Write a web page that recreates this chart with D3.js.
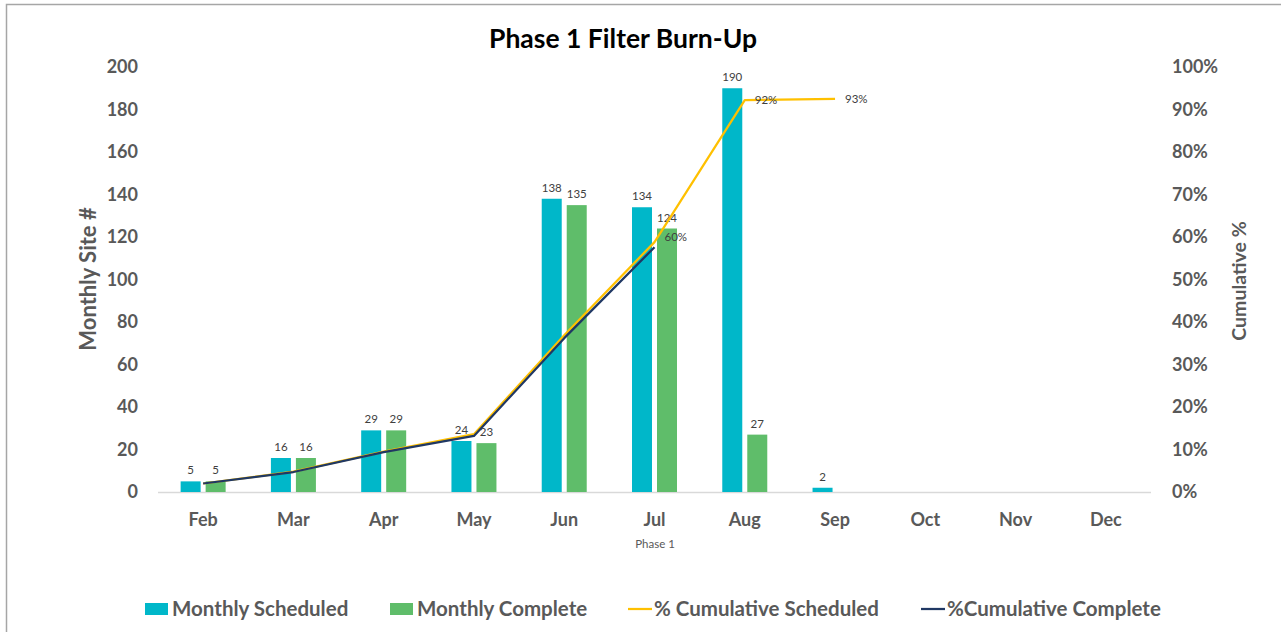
<!DOCTYPE html>
<html>
<head>
<meta charset="utf-8">
<script src="https://cdn.jsdelivr.net/npm/d3@7"></script>
<style>
  body { margin: 0; background: #fff; }
  svg { display: block; font-family: Lato, "Open Sans", sans-serif; }
</style>
</head>
<body>
<svg id="chart" width="1281" height="632"></svg>
<script>
var months = ["Feb", "Mar", "Apr", "May", "Jun", "Jul", "Aug", "Sep", "Oct", "Nov", "Dec"];
var monthlyScheduled = [5, 16, 29, 24, 138, 134, 190, 2, null, null, null];
var monthlyComplete = [5, 16, 29, 23, 135, 124, 27, null, null, null, null];
var cumScheduled = [0.02, 0.048, 0.095, 0.136, 0.369, 0.588, 0.922, 0.925];
var cumComplete = [0.02, 0.047, 0.094, 0.132, 0.362, 0.576];
// only a few points carry labels in the original
var cumScheduledLabels = [null, null, null, null, null, null, "92%", "93%"];
var cumCompleteLabels = [null, null, null, null, null, "60%"];
var leftTicks = [0, 20, 40, 60, 80, 100, 120, 140, 160, 180, 200];
var rightTicks = [0, 0.1, 0.2, 0.3, 0.4, 0.5, 0.6, 0.7, 0.8, 0.9, 1.0];

var colSched = "#00b7c9", colComp = "#5fbd6a", colCumS = "#ffc000", colCumC = "#203864";
var textCol = "#595959";

var svg = d3.select("#chart");

// outer frame
svg.append("rect")
    .attr("x", 6.5).attr("y", 4.5)
    .attr("width", 1300).attr("height", 660)
    .attr("fill", "none").attr("stroke", "#a6a6a6").attr("stroke-width", 1.5);

var plotLeft = 158, plotRight = 1151, plotTop = 67, plotBottom = 492;

var x = d3.scaleBand().domain(months).range([plotLeft, plotRight]);
var y = d3.scaleLinear().domain([0, 200]).range([plotBottom, plotTop]);
var yPct = d3.scaleLinear().domain([0, 1]).range([plotBottom, plotTop]);

// title
svg.append("text")
    .attr("x", 623).attr("y", 48)
    .attr("text-anchor", "middle")
    .style("font-size", "26.5px").style("font-weight", "bold").attr("fill", "#000")
    .text("Phase 1 Filter Burn-Up");

function styleAxis(g) {
    g.attr("font-family", null).attr("font-size", null);
    g.select(".domain").remove();
    g.selectAll("text").style("font-size", "18px").style("font-weight", "bold")
        .attr("fill", textCol);
}

// left axis
var yAxis = d3.axisLeft(y).tickValues(leftTicks).tickSize(0).tickPadding(20);
svg.append("g").attr("transform", "translate(" + plotLeft + ",0)").call(yAxis).call(styleAxis);

// right axis
var yAxisR = d3.axisRight(yPct).tickValues(rightTicks).tickSize(0).tickPadding(21)
    .tickFormat(d3.format(".0%"));
svg.append("g").attr("transform", "translate(" + plotRight + ",0)").call(yAxisR).call(styleAxis);

// x axis
var xAxis = d3.axisBottom(x).tickSize(0).tickPadding(21);
svg.append("g").attr("transform", "translate(0," + plotBottom + ")").call(xAxis).call(styleAxis);
svg.append("line")
    .attr("x1", plotLeft).attr("x2", plotRight)
    .attr("y1", plotBottom + 0.5).attr("y2", plotBottom + 0.5)
    .attr("stroke", "#d9d9d9").attr("stroke-width", 1.5);

svg.append("text")
    .attr("x", 655).attr("y", 548).attr("text-anchor", "middle")
    .style("font-size", "11.5px").attr("fill", textCol)
    .text("Phase 1");

// axis titles
svg.append("text")
    .attr("transform", "translate(96,279) rotate(-90)")
    .attr("text-anchor", "middle")
    .style("font-size", "22px").style("font-weight", "bold").attr("fill", textCol)
    .text("Monthly Site #");

svg.append("text")
    .attr("transform", "translate(1246,281) rotate(-90)")
    .attr("text-anchor", "middle")
    .style("font-size", "19.5px").style("font-weight", "bold").attr("fill", textCol)
    .text("Cumulative %");

// bars
var barW = 20, gap = 5;
function barX(m, i) { return x(m) + x.bandwidth() / 2 - barW - gap / 2 + i * (barW + gap); }

var schedData = months.map(function (m, i) { return { m: m, v: monthlyScheduled[i] }; }).filter(function (d) { return d.v != null; });
var compData = months.map(function (m, i) { return { m: m, v: monthlyComplete[i] }; }).filter(function (d) { return d.v != null; });

svg.append("g").selectAll("rect").data(schedData).enter().append("rect")
    .attr("x", function (d) { return barX(d.m, 0); })
    .attr("y", function (d) { return y(d.v); })
    .attr("width", barW)
    .attr("height", function (d) { return plotBottom - y(d.v); })
    .attr("fill", colSched);

svg.append("g").selectAll("rect").data(compData).enter().append("rect")
    .attr("x", function (d) { return barX(d.m, 1); })
    .attr("y", function (d) { return y(d.v); })
    .attr("width", barW)
    .attr("height", function (d) { return plotBottom - y(d.v); })
    .attr("fill", colComp);

function barLabels(data, i) {
    svg.append("g").selectAll("text").data(data).enter().append("text")
        .attr("x", function (d) { return barX(d.m, i) + barW / 2; })
        .attr("y", function (d) { return y(d.v) - 7; })
        .attr("text-anchor", "middle")
        .style("font-size", "11.5px").attr("fill", "#404040")
        .text(function (d) { return d.v; });
}
barLabels(schedData, 0);
barLabels(compData, 1);

// cumulative lines
var line = d3.line()
    .x(function (d, i) { return x(months[i]) + x.bandwidth() / 2; })
    .y(function (d) { return yPct(d); });

svg.append("path").datum(cumScheduled)
    .attr("d", line).attr("fill", "none")
    .attr("stroke", colCumS).attr("stroke-width", 2.25).attr("stroke-linejoin", "round");

svg.append("path").datum(cumComplete)
    .attr("d", line).attr("fill", "none")
    .attr("stroke", colCumC).attr("stroke-width", 2.25).attr("stroke-linejoin", "round");

function lineLabels(vals, labels, dy) {
    svg.append("g").selectAll("text")
        .data(vals.map(function (v, i) { return { v: v, i: i, t: labels[i] }; }).filter(function (d) { return d.t; }))
        .enter().append("text")
        .attr("x", function (d) { return x(months[d.i]) + x.bandwidth() / 2 + 10; })
        .attr("y", function (d) { return yPct(d.v) + dy; })
        .style("font-size", "11.5px").attr("fill", "#404040")
        .text(function (d) { return d.t; });
}
lineLabels(cumScheduled, cumScheduledLabels, 4);
lineLabels(cumComplete, cumCompleteLabels, -6);

// legend
var legend = [
    { name: "Monthly Scheduled", color: colSched, type: "rect", x: 145 },
    { name: "Monthly Complete", color: colComp, type: "rect", x: 390 },
    { name: "% Cumulative Scheduled", color: colCumS, type: "line", x: 628 },
    { name: "%Cumulative Complete", color: colCumC, type: "line", x: 921 }
];
var lg = svg.append("g").selectAll("g").data(legend).enter().append("g")
    .attr("transform", function (d) { return "translate(" + d.x + ",609)"; });
lg.filter(function (d) { return d.type == "rect"; }).append("rect")
    .attr("x", 0).attr("y", -6).attr("width", 23).attr("height", 12)
    .attr("fill", function (d) { return d.color; });
lg.filter(function (d) { return d.type == "line"; }).append("line")
    .attr("x1", 0).attr("x2", 24).attr("y1", 0).attr("y2", 0)
    .attr("stroke", function (d) { return d.color; }).attr("stroke-width", 2.25);
lg.append("text")
    .attr("x", function (d) { return d.type == "rect" ? 27 : 26; })
    .attr("y", 7)
    .style("font-size", "20.5px").style("font-weight", "bold").attr("fill", textCol)
    .text(function (d) { return d.name; });
</script>
</body>
</html>
